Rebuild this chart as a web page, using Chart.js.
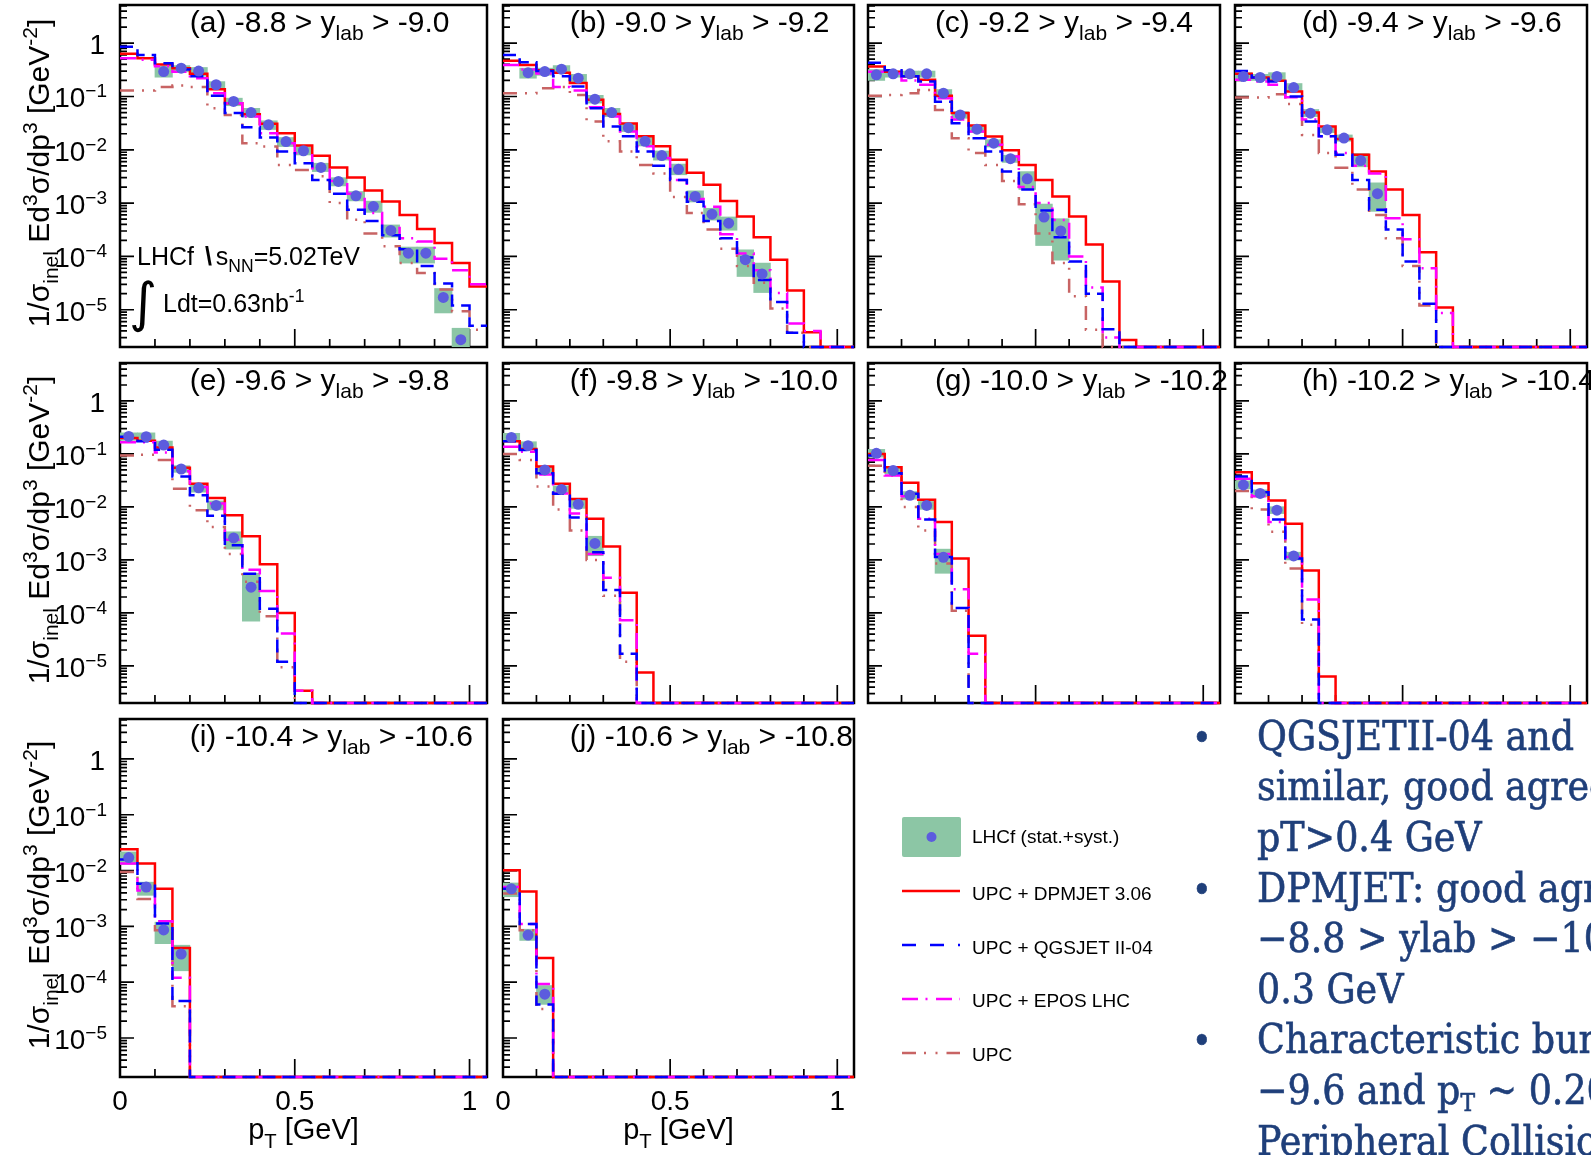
<!DOCTYPE html>
<html>
<head>
<meta charset="utf-8">
<title>LHCf photon pT spectra</title>
<script src="https://cdn.jsdelivr.net/npm/chart.js@4.4.1/dist/chart.umd.min.js"></script>
<style>
  html, body { margin: 0; padding: 0; background: #fff; }
  body { position: relative; width: 1591px; height: 1155px; overflow: hidden;
         font-family: "Liberation Sans", Arial, Helvetica, sans-serif; color: #000; }
  canvas { position: absolute; }
  .txt { position: absolute; white-space: nowrap; }
  .sub { font-size: 0.7em; position: relative; top: 0.42em; line-height: 0; }
  .sup { font-size: 0.7em; position: relative; top: -0.55em; line-height: 0; }
  .notes { position: absolute; font-family: "DejaVu Serif", serif; font-stretch: condensed;
           color: #1f3f7a; white-space: nowrap; -webkit-text-stroke: 0.6px #1f3f7a; }
  #legend { position: absolute; left: 0; top: 0; }
</style>
</head>
<body>
<script>
// ---------------- data ----------------
const binWidth = 0.05;                  // pT bin width [GeV], 21 bins from 0 to 1.05
const panelLabels = ["(a)", "(b)", "(c)", "(d)", "(e)", "(f)", "(g)", "(h)", "(i)", "(j)"];
const yUpper = ["-8.8", "-9.0", "-9.2", "-9.4", "-9.6", "-9.8", "-10.0", "-10.2", "-10.4", "-10.6"];
const yLower = ["-9.0", "-9.2", "-9.4", "-9.6", "-9.8", "-10.0", "-10.2", "-10.4", "-10.6", "-10.8"];

// LHCf data points: first filled bin, value, and stat+syst band (low / high)
const lhcfFirstBin = [2, 1, 0, 0, 0, 0, 0, 0, 0, 0];
const lhcfValue = [
  [0.294, 0.34, 0.30, 0.166, 0.0806, 0.050, 0.0294, 0.0143, 0.0096, 0.00467, 0.00255, 0.00137, 0.000866, 0.000307, 0.000115, 0.000115, 1.7e-5, 2.74e-6],
  [0.28, 0.294, 0.325, 0.22, 0.089, 0.05, 0.026, 0.0144, 0.0078, 0.0043, 0.00133, 0.00062, 0.00042, 8.7e-5, 4.7e-5],
  [0.255, 0.266, 0.266, 0.266, 0.115, 0.045, 0.0244, 0.0133, 0.0068, 0.00286, 0.000546, 0.0003],
  [0.237, 0.227, 0.237, 0.147, 0.0487, 0.0237, 0.0166, 0.0063, 0.0015],
  [0.214, 0.211, 0.147, 0.052, 0.023, 0.0107, 0.0026, 0.000307],
  [0.205, 0.143, 0.05, 0.0214, 0.0112, 0.00205],
  [0.103, 0.0487, 0.0166, 0.0107, 0.00112],
  [0.026, 0.018, 0.0087, 0.00119],
  [0.0171, 0.00508, 8.65e-4, 3.2e-4],
  [0.0047, 7e-4, 6.1e-5]
];
const lhcfLow = [
  [0.23, 0.29, 0.24, 0.14, 0.067, 0.041, 0.024, 0.0115, 0.008, 0.0039, 0.0021, 0.0011, 0.00067, 0.00023, 7.5e-5, 7.5e-5, 8.7e-6, 1.5e-6],
  [0.22, 0.25, 0.27, 0.18, 0.075, 0.042, 0.022, 0.0118, 0.0064, 0.0034, 0.00105, 0.00048, 0.00031, 4.2e-5, 2.1e-5],
  [0.2, 0.23, 0.23, 0.23, 0.097, 0.039, 0.021, 0.0113, 0.0058, 0.0018, 0.00016, 8.5e-5],
  [0.2, 0.2, 0.2, 0.125, 0.042, 0.021, 0.0145, 0.0048, 0.0007],
  [0.18, 0.18, 0.125, 0.045, 0.019, 0.0088, 0.0016, 7e-5],
  [0.17, 0.12, 0.043, 0.018, 0.0094, 0.0012],
  [0.087, 0.042, 0.014, 0.009, 5.6e-4],
  [0.022, 0.0155, 0.0075, 0.001],
  [0.0129, 0.0036, 4.9e-4, 1.6e-4],
  [0.0034, 5.6e-4, 4e-5]
];
const lhcfHigh = [
  [0.37, 0.38, 0.35, 0.19, 0.093, 0.06, 0.035, 0.017, 0.0115, 0.0056, 0.003, 0.00165, 0.00109, 0.00039, 1.5e-4, 1.5e-4, 2.5e-5, 4.5e-6],
  [0.34, 0.34, 0.38, 0.26, 0.105, 0.06, 0.031, 0.0175, 0.0095, 0.0054, 0.0017, 0.0008, 0.00055, 1.33e-4, 7.5e-5],
  [0.32, 0.3, 0.3, 0.3, 0.135, 0.052, 0.028, 0.0155, 0.0079, 0.0039, 0.00096, 0.00051],
  [0.28, 0.26, 0.28, 0.175, 0.057, 0.027, 0.019, 0.0085, 0.0024],
  [0.25, 0.25, 0.175, 0.06, 0.027, 0.013, 0.0034, 5.6e-4],
  [0.245, 0.17, 0.058, 0.025, 0.0133, 0.0028],
  [0.122, 0.056, 0.0195, 0.0127, 0.0016],
  [0.031, 0.021, 0.0101, 0.0014],
  [0.0216, 0.0062, 1.19e-3, 4.6e-4],
  [0.006, 8.9e-4, 8.7e-5]
];

// model histograms, 21 bins each (0 = empty bin)
const dpmjet = [
  [0.63, 0.52, 0.40, 0.34, 0.266, 0.137, 0.075, 0.0466, 0.0307, 0.0205, 0.012, 0.0077, 0.00467, 0.00303, 0.00173, 0.00107, 0.0006, 0.000326, 0.000178, 7.5e-5, 2.74e-5],
  [0.47, 0.39, 0.31, 0.28, 0.18, 0.087, 0.047, 0.031, 0.018, 0.0116, 0.0065, 0.0037, 0.0022, 0.0011, 0.00056, 0.00023, 8.7e-5, 2.3e-5, 3.8e-6, 0, 0],
  [0.365, 0.29, 0.24, 0.205, 0.103, 0.049, 0.0286, 0.0178, 0.0098, 0.0052, 0.0027, 0.00133, 0.00056, 0.000167, 3.4e-5, 2.7e-6, 0, 0, 0, 0, 0],
  [0.266, 0.227, 0.197, 0.124, 0.05, 0.0274, 0.016, 0.0081, 0.0039, 0.0018, 0.0006, 1.2e-4, 1.1e-5, 0, 0, 0, 0, 0, 0, 0, 0],
  [0.2, 0.178, 0.133, 0.055, 0.0274, 0.0147, 0.007, 0.0028, 8.3e-4, 1e-4, 3.4e-6, 0, 0, 0, 0, 0, 0, 0, 0, 0, 0],
  [0.173, 0.124, 0.058, 0.0274, 0.0142, 0.006, 0.0018, 2.4e-4, 7.5e-6, 0, 0, 0, 0, 0, 0, 0, 0, 0, 0, 0, 0],
  [0.1, 0.056, 0.0286, 0.0137, 0.0052, 0.00106, 3.7e-5, 0, 0, 0, 0, 0, 0, 0, 0, 0, 0, 0, 0, 0, 0],
  [0.045, 0.028, 0.0133, 0.0048, 6.3e-4, 6.3e-6, 0, 0, 0, 0, 0, 0, 0, 0, 0, 0, 0, 0, 0, 0, 0],
  [0.0242, 0.0134, 0.0047, 4.1e-4, 0, 0, 0, 0, 0, 0, 0, 0, 0, 0, 0, 0, 0, 0, 0, 0, 0],
  [0.0101, 0.0042, 2.7e-4, 0, 0, 0, 0, 0, 0, 0, 0, 0, 0, 0, 0, 0, 0, 0, 0, 0, 0]
];
const qgsjet = [
  [0.86, 0.6, 0.42, 0.32, 0.24, 0.103, 0.049, 0.0266, 0.017, 0.0093, 0.0056, 0.0027, 0.0015, 0.00075, 0.00046, 0.00025, 1.36e-4, 6.6e-5, 3.1e-5, 1.2e-5, 5e-6],
  [0.6, 0.44, 0.30, 0.24, 0.154, 0.06, 0.0275, 0.018, 0.0093, 0.005, 0.0027, 0.00106, 0.00046, 0.00022, 9.5e-5, 3.6e-5, 1.4e-5, 3.7e-6, 0, 0, 0],
  [0.43, 0.31, 0.24, 0.19, 0.08, 0.0316, 0.0165, 0.0093, 0.0039, 0.0018, 0.00073, 2.3e-4, 8e-5, 2e-5, 4.3e-6, 0, 0, 0, 0, 0, 0],
  [0.3, 0.227, 0.19, 0.1, 0.034, 0.018, 0.0081, 0.0027, 0.00075, 3.2e-4, 8e-5, 1.3e-5, 0, 0, 0, 0, 0, 0, 0, 0, 0],
  [0.21, 0.173, 0.12, 0.0375, 0.0166, 0.0068, 0.0019, 5.5e-4, 1.2e-4, 1.2e-5, 0, 0, 0, 0, 0, 0, 0, 0, 0, 0, 0],
  [0.173, 0.119, 0.0434, 0.0178, 0.0063, 0.0014, 2.7e-4, 1.7e-5, 0, 0, 0, 0, 0, 0, 0, 0, 0, 0, 0, 0, 0],
  [0.093, 0.0434, 0.0178, 0.0058, 0.00114, 1.24e-4, 0, 0, 0, 0, 0, 0, 0, 0, 0, 0, 0, 0, 0, 0, 0],
  [0.0375, 0.019, 0.0058, 0.00106, 7.5e-5, 0, 0, 0, 0, 0, 0, 0, 0, 0, 0, 0, 0, 0, 0, 0, 0],
  [0.0158, 0.0058, 0.00113, 4.6e-5, 0, 0, 0, 0, 0, 0, 0, 0, 0, 0, 0, 0, 0, 0, 0, 0, 0],
  [0.0047, 0.0011, 4e-5, 0, 0, 0, 0, 0, 0, 0, 0, 0, 0, 0, 0, 0, 0, 0, 0, 0, 0]
];
const epos = [
  [0.52, 0.49, 0.37, 0.29, 0.22, 0.115, 0.075, 0.042, 0.0205, 0.0133, 0.0087, 0.0045, 0.0026, 0.0015, 0.00065, 0.00034, 0.00022, 0.00019, 9e-5, 5.5e-5, 3e-5],
  [0.39, 0.32, 0.27, 0.15, 0.13, 0.063, 0.042, 0.022, 0.0116, 0.007, 0.0027, 0.0012, 0.00085, 0.00026, 1.14e-4, 5.5e-5, 2.05e-5, 5.5e-6, 4e-6, 0, 0],
  [0.29, 0.27, 0.2, 0.166, 0.093, 0.037, 0.022, 0.0124, 0.0075, 0.002, 0.001, 0.00048, 1e-4, 2.6e-5, 3e-6, 0, 0, 0, 0, 0, 0],
  [0.205, 0.19, 0.166, 0.097, 0.037, 0.018, 0.0087, 0.005, 0.0036, 5.2e-4, 2.1e-4, 6e-5, 8.7e-6, 0, 0, 0, 0, 0, 0, 0, 0],
  [0.166, 0.166, 0.107, 0.047, 0.0237, 0.0116, 0.0024, 6.5e-4, 2.6e-4, 4.1e-5, 3.4e-6, 0, 0, 0, 0, 0, 0, 0, 0, 0, 0],
  [0.137, 0.11, 0.041, 0.018, 0.0075, 0.0013, 4.6e-4, 7.3e-5, 0, 0, 0, 0, 0, 0, 0, 0, 0, 0, 0, 0, 0],
  [0.077, 0.039, 0.016, 0.006, 0.0013, 2.8e-4, 1.7e-5, 0, 0, 0, 0, 0, 0, 0, 0, 0, 0, 0, 0, 0, 0],
  [0.034, 0.016, 0.0052, 0.00114, 1.8e-4, 0, 0, 0, 0, 0, 0, 0, 0, 0, 0, 0, 0, 0, 0, 0, 0],
  [0.0134, 0.0044, 0.00123, 1.2e-4, 0, 0, 0, 0, 0, 0, 0, 0, 0, 0, 0, 0, 0, 0, 0, 0, 0],
  [0.0051, 0.0011, 9.3e-5, 0, 0, 0, 0, 0, 0, 0, 0, 0, 0, 0, 0, 0, 0, 0, 0, 0, 0]
];
const upc = [
  [0.13, 0.13, 0.15, 0.16, 0.15, 0.06, 0.045, 0.0133, 0.0115, 0.0052, 0.0042, 0.0032, 0.001, 0.00049, 0.00027, 0.000155, 7.5e-5, 4.9e-5, 2.4e-5, 9.4e-6, 4.2e-6],
  [0.115, 0.115, 0.143, 0.15, 0.107, 0.034, 0.0144, 0.0093, 0.0052, 0.0036, 0.0013, 0.00065, 3.2e-4, 1.4e-4, 6.6e-5, 3.2e-5, 1.06e-5, 3.7e-6, 0, 0, 0],
  [0.103, 0.107, 0.115, 0.133, 0.056, 0.0165, 0.0087, 0.0052, 0.0026, 0.00095, 2.7e-4, 7.5e-5, 1.8e-5, 4.2e-6, 0, 0, 0, 0, 0, 0, 0],
  [0.096, 0.096, 0.11, 0.072, 0.019, 0.0087, 0.0046, 0.0018, 6e-4, 2.2e-4, 6.6e-5, 1.2e-5, 0, 0, 0, 0, 0, 0, 0, 0, 0],
  [0.093, 0.097, 0.077, 0.022, 0.0087, 0.0042, 0.0013, 3.9e-4, 8.7e-5, 9.5e-6, 0, 0, 0, 0, 0, 0, 0, 0, 0, 0, 0],
  [0.1, 0.077, 0.0244, 0.009, 0.0036, 0.001, 2.1e-4, 1.2e-5, 0, 0, 0, 0, 0, 0, 0, 0, 0, 0, 0, 0, 0],
  [0.06, 0.039, 0.01, 0.0036, 8.6e-4, 1.1e-4, 0, 0, 0, 0, 0, 0, 0, 0, 0, 0, 0, 0, 0, 0, 0],
  [0.02, 0.009, 0.0034, 6.9e-4, 6e-5, 0, 0, 0, 0, 0, 0, 0, 0, 0, 0, 0, 0, 0, 0, 0, 0],
  [0.0094, 0.0031, 8.5e-4, 3.7e-5, 0, 0, 0, 0, 0, 0, 0, 0, 0, 0, 0, 0, 0, 0, 0, 0, 0],
  [0.0039, 8.5e-4, 3.3e-5, 0, 0, 0, 0, 0, 0, 0, 0, 0, 0, 0, 0, 0, 0, 0, 0, 0, 0]
];

// axes
const xMax = 1.05;
const yMin = 2e-6, yMax = 5.2;
const yMajorExponents = [0, -1, -2, -3, -4, -5];
const xMajorTicks = [0, 0.5, 1];
const xTickLabels = ["0", "0.5", "1"];
const xMinorStep = 0.1;

const legendLabels = ["LHCf (stat.+syst.)", "UPC + DPMJET 3.06", "UPC + QGSJET II-04", "UPC + EPOS LHC", "UPC"];
const noteLines = [
  "QGSJETII-04 and",
  "similar, good agreement",
  "pT&gt;0.4 GeV",
  "DPMJET: good agreement",
  "\u22128.8 &gt; ylab &gt; \u221210.0",
  "0.3 GeV",
  "Characteristic bump",
  "\u22129.6 and p<span class=\"sub\" style=\"font-size:0.6em;top:0.3em\">T</span> ~ 0.20",
  "Peripheral Collisions"
];

// ---------------- styles / layout ----------------
// drawing order: first entry ends up on top
const models = [qgsjet, epos, dpmjet, upc];
const modelColors = ["#0000ff", "#ff00ff", "#ff0000", "#c86464"];
const modelDash = [[13, 7], [16, 7, 2, 7], [], [14, 8, 2, 9, 2, 9]];
const legendOrder = [2, 0, 1, 3];      // DPMJET, QGSJET, EPOS, UPC
const legendDash = ["14 14", "16 7.5 2 8.5", "", "14 8 2 9.5 2 9"];
const boxColor = "#8cc6a5";
const dotColor = "#5c5cde";

const colX = [[120, 487], [503, 854], [868, 1220], [1235, 1587]];
const rowY = [[5, 347], [363, 703], [719, 1077]];
const font = '"Liberation Sans", Arial, sans-serif';

// frame, inward ticks and tick labels, all placed through the chart scales
const panelAxes = {
  id: 'panelAxes',
  beforeDatasetsDraw(chart) {
    const { ctx, chartArea: a, scales } = chart;
    ctx.save();
    ctx.strokeStyle = '#000';
    ctx.lineWidth = 1.7;
    ctx.beginPath();
    for (let e = -6; e <= 0; e++) {
      for (let m = 1; m <= 9; m++) {
        const v = m * Math.pow(10, e);
        if (v < yMin || v > yMax) continue;
        const py = scales.y.getPixelForValue(v);
        ctx.moveTo(a.left, py);
        ctx.lineTo(a.left + (m === 1 ? 14 : 7), py);
      }
    }
    for (let i = 1; i * xMinorStep <= xMax; i++) {
      const v = i * xMinorStep;
      const px = scales.x.getPixelForValue(v);
      const major = xMajorTicks.some(t => Math.abs(t - v) < 1e-9);
      ctx.moveTo(px, a.bottom);
      ctx.lineTo(px, a.bottom - (major ? 18 : 8));
    }
    ctx.stroke();
    ctx.lineWidth = 2.5;
    ctx.strokeRect(a.left, a.top, a.right - a.left, a.bottom - a.top);
    ctx.restore();
  },
  afterDraw(chart, args, opts) {
    const { ctx, chartArea: a, scales } = chart;
    ctx.save();
    ctx.fillStyle = '#000';
    ctx.textBaseline = 'alphabetic';
    if (opts.yLabels) {
      ctx.textAlign = 'right';
      const right = a.left - 13;
      yMajorExponents.forEach(e => {
        const py = scales.y.getPixelForValue(Math.pow(10, e));
        if (e === 0) {
          ctx.font = '28px ' + font;
          ctx.fillText('1', right - 2, py + 11);
        } else {
          ctx.font = '19px ' + font;
          const sup = '\u2212' + (-e);
          ctx.fillText(sup, right, py + 1);
          const w = ctx.measureText(sup).width;
          ctx.font = '28px ' + font;
          ctx.fillText('10', right - w, py + 11);
        }
      });
    }
    if (opts.xLabels) {
      ctx.textAlign = 'center';
      ctx.font = '28px ' + font;
      xMajorTicks.forEach((v, i) => {
        ctx.fillText(xTickLabels[i], scales.x.getPixelForValue(v), a.bottom + 33);
      });
    }
    ctx.restore();
  }
};

function stepPoints(values) {
  // lower bin edges plus the closing edge; empty bins sit on the frame floor like ROOT draws them
  const pts = values.map((v, i) => ({ x: i * binWidth, y: v > 0 ? v : yMin }));
  pts.push({ x: values.length * binWidth, y: pts[pts.length - 1].y });
  return pts;
}

function placeText(html, x, baseline, size, center, extra) {
  const d = document.createElement('div');
  d.className = 'txt';
  d.innerHTML = html;
  d.style.fontSize = size + 'px';
  d.style.lineHeight = size + 'px';
  d.style.left = x + 'px';
  d.style.top = (baseline - 0.845 * size) + 'px';
  if (center) d.style.transform = 'translateX(-50%)';
  if (extra) Object.assign(d.style, extra);
  document.body.appendChild(d);
  return d;
}

function buildPanel(p) {
  const col = p % 4, row = Math.floor(p / 4);
  const [fx0, fx1] = colX[col];
  const [fy0, fy1] = rowY[row];
  const pad = {
    left: col === 0 ? fx0 : (row === 2 ? 20 : 4), right: 4, top: 4,
    bottom: row === 2 ? 1155 - fy1 : 4
  };

  const canvas = document.createElement('canvas');
  const w = fx1 - fx0 + pad.left + pad.right;
  const h = fy1 - fy0 + pad.top + pad.bottom;
  canvas.width = w; canvas.height = h;
  canvas.style.left = (fx0 - pad.left) + 'px';
  canvas.style.top = (fy0 - pad.top) + 'px';
  canvas.style.width = w + 'px'; canvas.style.height = h + 'px';
  document.body.appendChild(canvas);

  const centers = lhcfValue[p].map((v, i) => (lhcfFirstBin[p] + i + 0.5) * binWidth);
  const dots = lhcfValue[p].map((v, i) => ({ x: centers[i], y: v }));
  const boxes = lhcfValue[p].map((v, i) => ({ x: centers[i], y: [lhcfLow[p][i], lhcfHigh[p][i]] }));

  const datasets = [
    { type: 'scatter', data: dots, pointRadius: 5.5, backgroundColor: dotColor, borderWidth: 0, clip: 6 }
  ];
  models.forEach((m, s) => {
    datasets.push({
      type: 'line', data: stepPoints(m[p]), stepped: true, borderColor: modelColors[s],
      borderWidth: 2.5, borderDash: modelDash[s], pointRadius: 0, fill: false, clip: 2
    });
  });
  datasets.push({
    type: 'bar', data: boxes, backgroundColor: boxColor, borderWidth: 0,
    barPercentage: 1, categoryPercentage: 1, grouped: false
  });

  new Chart(canvas, {
    type: 'line',
    data: { datasets },
    options: {
      responsive: false, animation: false, devicePixelRatio: 1, events: [],
      layout: { autoPadding: false, padding: pad },
      plugins: {
        legend: { display: false }, tooltip: { enabled: false }, title: { display: false },
        panelAxes: { yLabels: col === 0, xLabels: row === 2 }
      },
      scales: {
        x: { type: 'linear', min: 0, max: xMax, offset: false, display: false, grid: { offset: false } },
        y: { type: 'logarithmic', min: yMin, max: yMax, display: false }
      }
    },
    plugins: [panelAxes]
  });

  // panel title
  placeText(panelLabels[p] + ' ' + yUpper[p] + ' &gt; y<span class="sub">lab</span> &gt; ' + yLower[p],
            fx0 + 0.19 * (fx1 - fx0), fy0 + 27, 30);

  if (col === 0) {
    const size = 30, tw = 420;
    const cx = 49 - 0.345 * size, cy = (fy0 + fy1) / 2 - 3;
    const d = document.createElement('div');
    d.className = 'txt';
    d.innerHTML = '1/\u03c3<span class="sub">inel</span> Ed<span class="sup">3</span>\u03c3/dp<span class="sup">3</span> [GeV<span class="sup">-2</span>]';
    Object.assign(d.style, {
      fontSize: size + 'px', lineHeight: size + 'px', width: tw + 'px', textAlign: 'center',
      left: (cx - tw / 2) + 'px', top: (cy - size / 2) + 'px', transform: 'rotate(-90deg)'
    });
    document.body.appendChild(d);
  }
  if (row === 2) {
    placeText('p<span class="sub">T</span> [GeV]', (fx0 + fx1) / 2, 1140, 29, true);
  }
}

for (let p = 0; p < panelLabels.length; p++) buildPanel(p);

// annotation in panel (a)
placeText('LHCf <span style="font-weight:bold;margin:0 4px 0 4px">\\</span>s<span class="sub">NN</span>=5.02TeV', 137, 265, 25);
placeText('\u222b', 129, 322, 54, false, { fontFamily: '"DejaVu Sans", sans-serif' });
placeText('Ldt=0.63nb<span class="sup">-1</span>', 163, 312, 25);

// legend
const svgNS = 'http://www.w3.org/2000/svg';
const svg = document.createElementNS(svgNS, 'svg');
svg.setAttribute('id', 'legend');
svg.setAttribute('width', 1591);
svg.setAttribute('height', 1155);
function svgEl(tag, attrs) {
  const el = document.createElementNS(svgNS, tag);
  for (const k in attrs) el.setAttribute(k, attrs[k]);
  svg.appendChild(el);
}
svgEl('rect', { x: 902, y: 817, width: 59, height: 40, rx: 2, fill: boxColor });
svgEl('circle', { cx: 931.5, cy: 837, r: 5, fill: dotColor });
const legendLineY = [891, 945, 999, 1053];
legendOrder.forEach((s, i) => {
  svgEl('line', { x1: 902, x2: 960, y1: legendLineY[i], y2: legendLineY[i], stroke: modelColors[s],
                  'stroke-width': 2.5, 'stroke-dasharray': legendDash[s] });
});
document.body.appendChild(svg);
const legendBaselines = [843, 900, 954, 1007, 1061];
legendLabels.forEach((t, i) => placeText(t, 972, legendBaselines[i], 19));

// bullet notes on the right
const noteSize = 40.5, noteStep = 50.6, noteTop = 750;
noteLines.forEach((t, i) => {
  const d = placeText(t, 1257, noteTop + i * noteStep, noteSize);
  d.classList.add('notes');
  if (i === 0 || i === 3 || i === 6) {
    const b = placeText('\u2022', 1192, noteTop + i * noteStep, 37);
    b.classList.add('notes');
  }
});
</script>
</body>
</html>
